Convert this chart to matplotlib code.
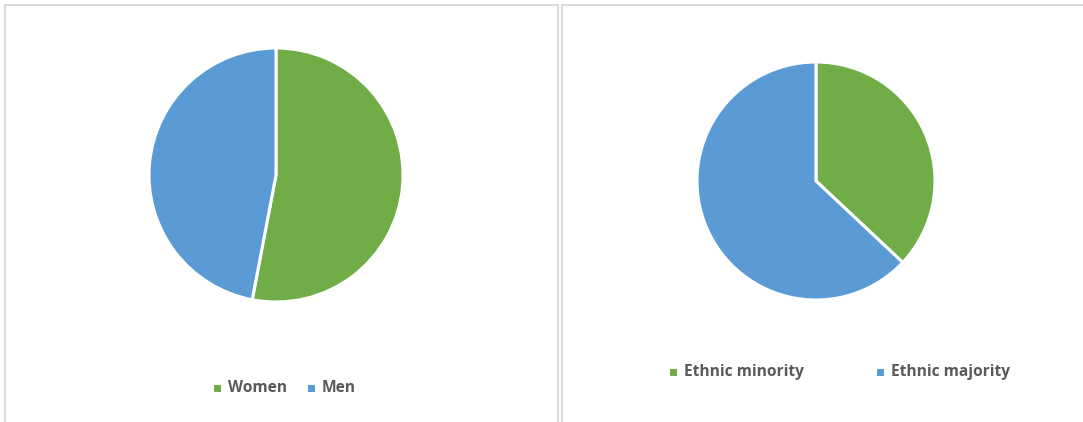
import matplotlib.pyplot as plt
from matplotlib.patches import Rectangle

# Data
gender_labels = ["Women", "Men"]
gender_values = [53, 47]
ethnic_labels = ["Ethnic minority", "Ethnic majority"]
ethnic_values = [37, 63]
colors = ["#70AD47", "#5B9BD5"]

W, H = 1083, 422
fig = plt.figure(figsize=(W / 100, H / 100), dpi=100)
fig.patch.set_facecolor("white")

def px_axes(x, y, w, h):
    return fig.add_axes([x / W, 1 - (y + h) / H, w / W, h / H])

# Panel borders
for (x0, x1) in [(5, 558), (562, 1100)]:
    fig.patches.append(Rectangle((x0 / W, -0.1), (x1 - x0) / W, 1 - 5 / H + 0.1,
                                 transform=fig.transFigure, fill=False,
                                 edgecolor="#d9d9d9", linewidth=1.5))

def draw_pie(box, values):
    ax = px_axes(*box)
    ax.pie(values, colors=colors, startangle=90, counterclock=False, radius=1,
           wedgeprops=dict(edgecolor="white", linewidth=2.2))
    ax.set_xlim(-1, 1)
    ax.set_ylim(-1, 1)
    ax.set_aspect("equal")
    ax.axis("off")
    return ax

draw_pie((149, 48, 254, 254), gender_values)
draw_pie((697, 62, 238, 238), ethnic_values)

def legend(items, y):
    for (mx, label), c in zip(items, colors):
        fig.patches.append(Rectangle(((mx - 3.5) / W, 1 - (y + 3.5) / H), 7 / W, 7 / H,
                                     transform=fig.transFigure, facecolor=c,
                                     edgecolor="none"))
        fig.text((mx + 11) / W, 1 - y / H, label, ha="left", va="center",
                 fontsize=11.2, fontweight="bold", color="#595959",
                 family="Open Sans")

legend(list(zip([217, 311], gender_labels)), 388)
legend(list(zip([673, 880], ethnic_labels)), 372)

fig.savefig("out.png", dpi=100, facecolor="white")
